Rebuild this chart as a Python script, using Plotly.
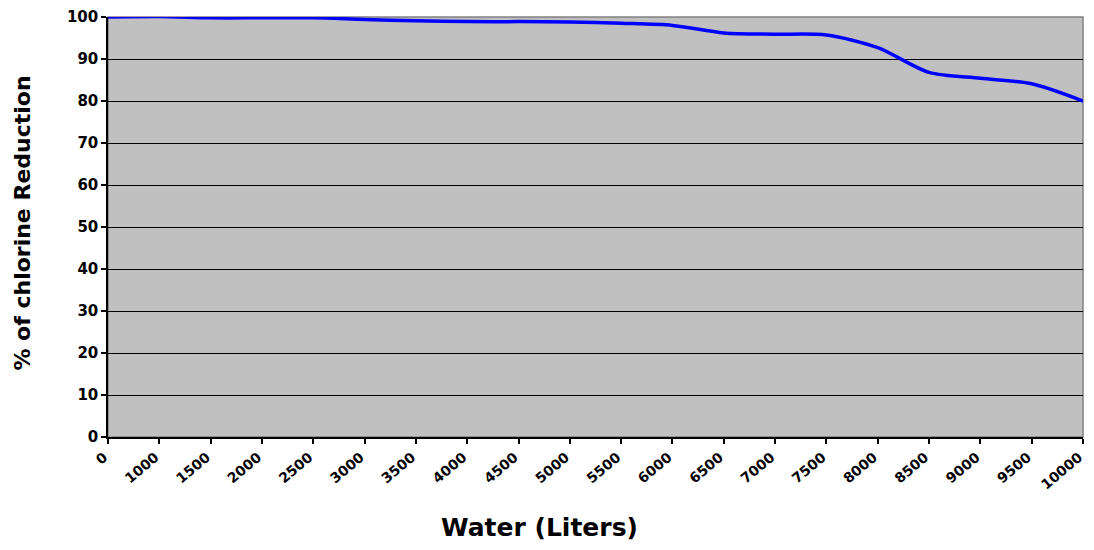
import plotly.graph_objects as go

categories = ["0", "1000", "1500", "2000", "2500", "3000", "3500", "4000", "4500", "5000",
              "5500", "6000", "6500", "7000", "7500", "8000", "8500", "9000", "9500", "10000"]
reduction = [100, 100.1, 99.8, 99.8, 99.8, 99.4, 99.1, 98.9, 98.9, 98.8,
             98.5, 98.0, 96.2, 95.9, 95.7, 92.7, 86.8, 85.4, 84.1, 80.0]
y_ticks = list(range(0, 101, 10))

FONT = "DejaVu Sans, Liberation Sans, Arial, sans-serif"

fig = go.Figure()
fig.add_trace(go.Scatter(
    x=categories, y=reduction, mode="lines",
    line=dict(color="#0000FF", width=3.5, shape="spline", smoothing=0.8),
    showlegend=False, hoverinfo="x+y"))

fig.update_layout(
    width=1078, height=534,
    margin=dict(l=100, r=0, t=9, b=105),
    paper_bgcolor="white", plot_bgcolor="#C0C0C0",
    font=dict(family=FONT, color="black"),
    xaxis=dict(type="category", categoryorder="array", categoryarray=categories,
               range=[0, len(categories) - 1], showgrid=False,
               showline=True, linecolor="black", linewidth=1.5,
               ticks="outside", ticklen=5, tickcolor="black", tickwidth=1.5,
               tickangle=-40, tickfont=dict(size=14, weight="bold"),
               ticklabelstandoff=0, ticklabelshift=-4),
    yaxis=dict(range=[0, 100], tickvals=y_ticks, showgrid=True, gridcolor="black", gridwidth=1,
               showline=True, linecolor="black", linewidth=1.5, zeroline=False,
               ticks="outside", ticklen=5, tickcolor="black", tickwidth=1.5,
               tickfont=dict(size=15, weight="bold")),
    shapes=[dict(type="rect", xref="paper", yref="paper", x0=0, x1=1, y0=0, y1=1,
                 line=dict(color="#808080", width=1.5), layer="below")],
    annotations=[
        dict(text="Water (Liters)", xref="paper", yref="paper", x=0.443, y=-0.216,
             xanchor="center", yanchor="middle", showarrow=False,
             font=dict(size=25, weight="bold")),
        dict(text="% of chlorine Reduction", xref="paper", yref="paper", x=-0.0874, y=0.51,
             xanchor="center", yanchor="middle", showarrow=False, textangle=-90,
             font=dict(size=22, weight="bold")),
    ],
)

fig.write_html("out.html")
